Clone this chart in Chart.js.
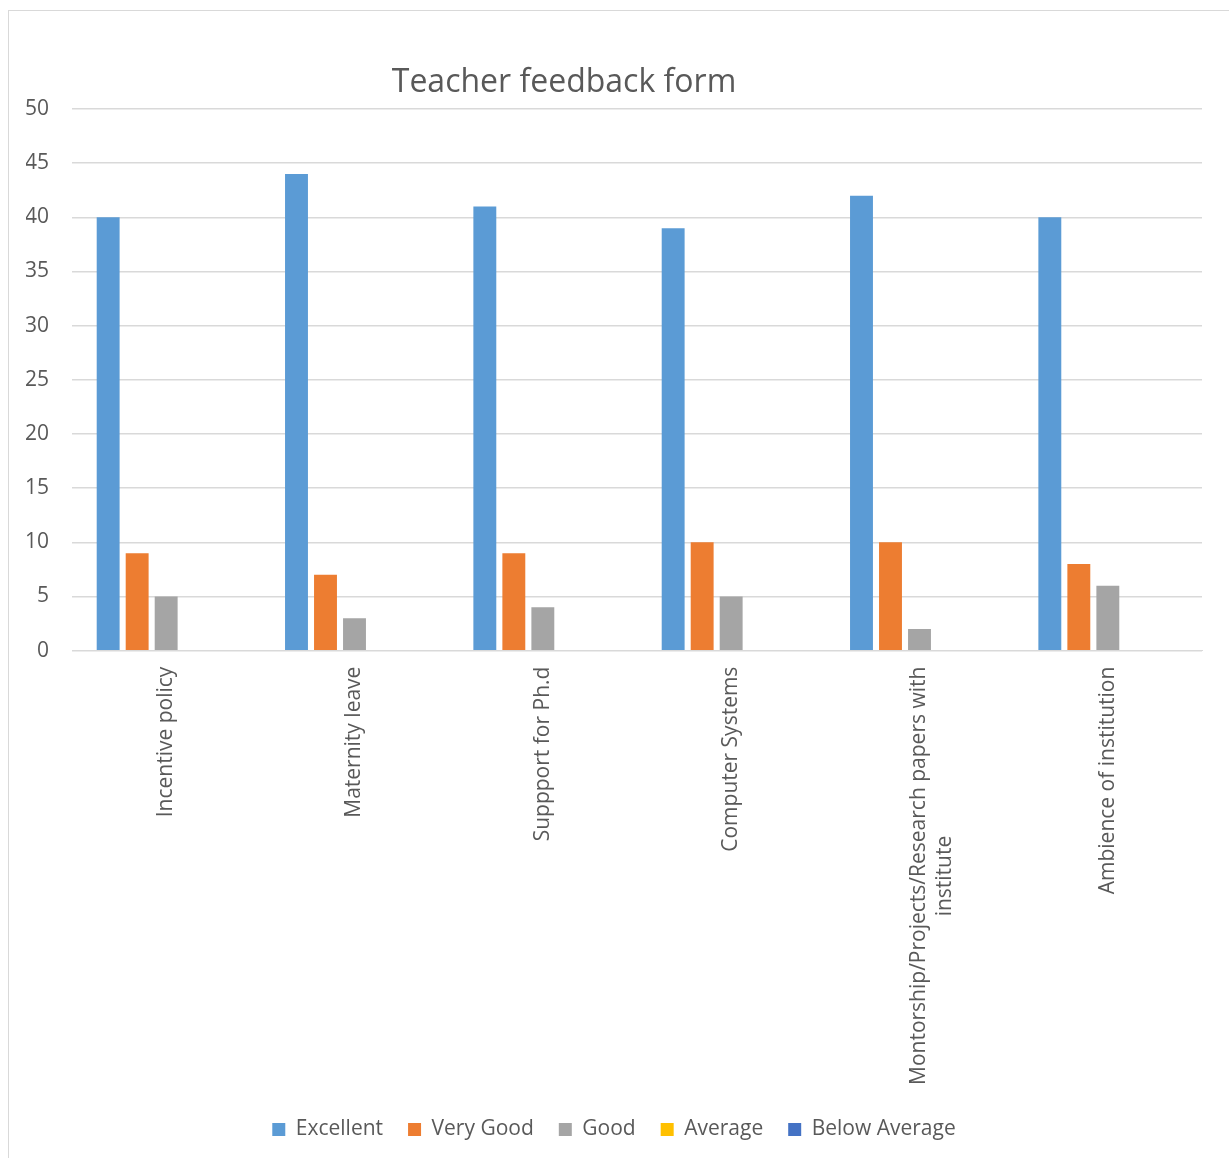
<!DOCTYPE html>
<html>
<head>
<meta charset="utf-8">
<title>Teacher feedback form</title>
<script src="https://cdn.jsdelivr.net/npm/chart.js@4.4.1/dist/chart.umd.min.js"></script>
<style>
  html, body { margin: 0; padding: 0; background: #fff; }
  #frame {
    position: absolute; left: 8px; top: 10px;
    width: 1230px; height: 1160px;
    border: 1px solid #d9d9d9; box-sizing: border-box;
  }
  #chart { display: block; }
</style>
</head>
<body>
<div id="frame"><canvas id="chart" width="1220" height="1147"></canvas></div>
<script>
/* ---------- data ---------- */
const categories = [
  'Incentive policy',
  'Maternity leave',
  'Suppport for Ph.d',
  'Computer Systems',
  ['Montorship/Projects/Research papers with', 'institute'],
  'Ambience of institution'
];
const excellent    = [40, 44, 41, 39, 42, 40];
const veryGood     = [9, 7, 9, 10, 10, 8];
const good         = [5, 3, 4, 5, 2, 6];
const average      = [0, 0, 0, 0, 0, 0];
const belowAverage = [0, 0, 0, 0, 0, 0];
const yTicks       = [0, 5, 10, 15, 20, 25, 30, 35, 40, 45, 50];

const chartTitle = 'Teacher feedback form';
const FONT = '"Open Sans", "DejaVu Sans", sans-serif';
const TEXT = '#595959';
const GRID = '#d9d9d9';
const LABEL_SIZE = 21;

/* ---------- helpers ---------- */
// centre the shorter lines of a multi-line rotated label (Chart.js right-aligns them)
const measureCtx = document.createElement('canvas').getContext('2d');
function centreLines(lbl, size) {
  if (!Array.isArray(lbl)) return lbl;
  measureCtx.font = `${size}px ${FONT}`;
  const widths = lbl.map(s => measureCtx.measureText(s).width);
  const maxW = Math.max(...widths);
  const sp = measureCtx.measureText('\u00a0').width;
  return lbl.map((s, i) => s + '\u00a0'.repeat(Math.round((maxW - widths[i]) / 2 / sp)));
}

// title drawn off-centre like the original
const titlePlugin = {
  id: 'offTitle',
  afterDraw(chart) {
    const ctx = chart.ctx;
    ctx.save();
    ctx.font = `32px ${FONT}`;
    ctx.fillStyle = TEXT;
    ctx.textAlign = 'center';
    ctx.textBaseline = 'middle';
    ctx.fillText(chartTitle, 555, 72);
    ctx.restore();
  }
};

function ds(label, data, color) {
  return { label, data, backgroundColor: color, borderWidth: 0,
           categoryPercentage: 0.77, barPercentage: 0.79 };
}

/* ---------- chart ---------- */
document.fonts.load(`${LABEL_SIZE}px ${FONT}`).finally(() => {
  const labels = categories.map(c => centreLines(c, LABEL_SIZE));
  new Chart(document.getElementById('chart'), {
    type: 'bar',
    data: {
      labels,
      datasets: [
        ds('Excellent', excellent, '#5b9bd5'),
        ds('Very Good', veryGood, '#ed7d31'),
        ds('Good', good, '#a5a5a5'),
        ds('Average', average, '#ffc000'),
        ds('Below Average', belowAverage, '#4472c4')
      ]
    },
    options: {
      responsive: false,
      animation: false,
      layout: { padding: { top: 98, left: 17, right: 27, bottom: 8 } },
      scales: {
        x: {
          grid: { display: false, drawTicks: false },
          border: { display: true, color: GRID, width: 1 },
          afterFit: (axis) => { axis.height -= 7; },
          ticks: { color: TEXT, font: { family: FONT, size: LABEL_SIZE }, padding: 16,
                   minRotation: 90, maxRotation: 90, autoSkip: false }
        },
        y: {
          min: 0, max: 50,
          afterBuildTicks: (axis) => { axis.ticks = yTicks.map(v => ({ value: v })); },
          afterFit: (axis) => { axis.width = 46; },
          grid: { color: GRID, lineWidth: 1.5, drawTicks: false },
          border: { display: false },
          ticks: { color: TEXT, font: { family: FONT, size: LABEL_SIZE }, padding: 23 }
        }
      },
      plugins: {
        title: { display: false },
        tooltip: { enabled: false },
        legend: {
          position: 'bottom',
          labels: { color: TEXT, font: { family: FONT, size: LABEL_SIZE },
                    boxWidth: 13, boxHeight: 13, padding: 25 }
        }
      }
    },
    plugins: [titlePlugin]
  });
});
</script>
</body>
</html>
